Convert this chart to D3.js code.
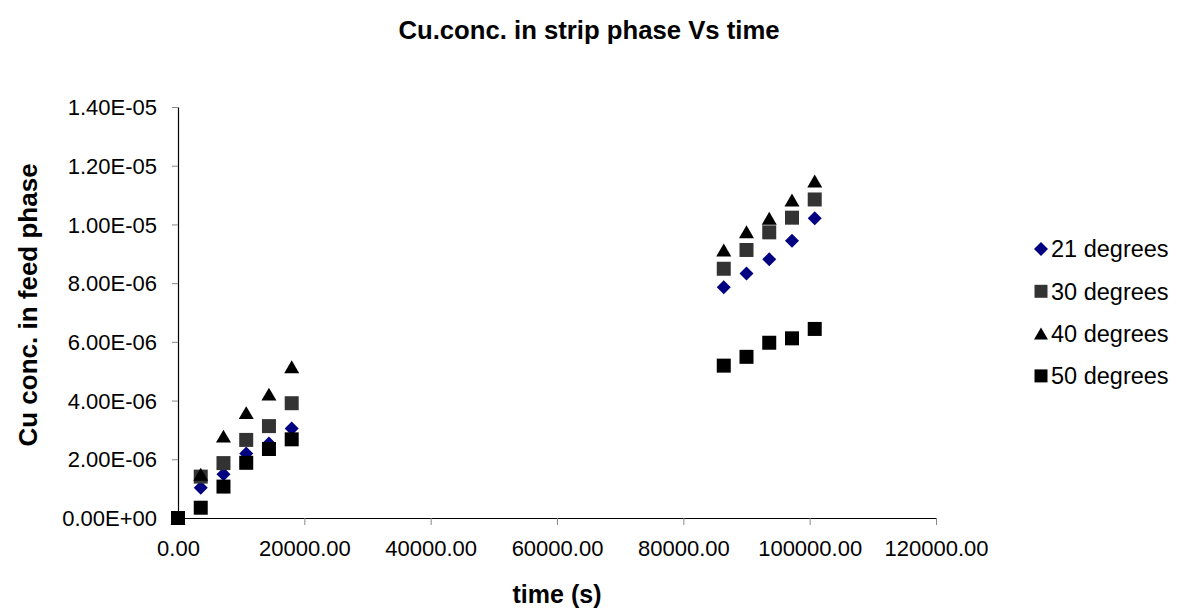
<!DOCTYPE html>
<html>
<head>
<meta charset="utf-8">
<script src="https://cdn.jsdelivr.net/npm/d3@7"></script>
<style>
  html, body { margin: 0; padding: 0; background: #ffffff; }
  svg { display: block; font-family: "Liberation Sans", Arial, sans-serif; }
</style>
</head>
<body>
<svg id="chart" width="1186" height="614"></svg>
<script>
// ---- data ----
const times = [0, 3600, 7200, 10800, 14400, 18000, 86400, 90000, 93600, 97200, 100800];
const seriesNames = ["21 degrees", "30 degrees", "40 degrees", "50 degrees"];
const deg21 = [0, 1.03e-6, 1.49e-6, 2.20e-6, 2.54e-6, 3.05e-6, 7.86e-6, 8.33e-6, 8.81e-6, 9.44e-6, 10.21e-6];
const deg30 = [0, 1.41e-6, 1.87e-6, 2.66e-6, 3.13e-6, 3.91e-6, 8.49e-6, 9.13e-6, 9.73e-6, 10.23e-6, 10.85e-6];
const deg40 = [0, 1.49e-6, 2.79e-6, 3.59e-6, 4.22e-6, 5.15e-6, 9.13e-6, 9.75e-6, 10.21e-6, 10.83e-6, 11.48e-6];
const deg50 = [0, 0.35e-6, 1.07e-6, 1.88e-6, 2.35e-6, 2.68e-6, 5.19e-6, 5.49e-6, 5.97e-6, 6.12e-6, 6.44e-6];
const xTickValues = [0, 20000, 40000, 60000, 80000, 100000, 120000];
const xTickLabels = ["0.00", "20000.00", "40000.00", "60000.00", "80000.00", "100000.00", "120000.00"];
const yTickValues = [0, 2e-6, 4e-6, 6e-6, 8e-6, 1e-5, 1.2e-5, 1.4e-5];
const yTickLabels = ["0.00E+00", "2.00E-06", "4.00E-06", "6.00E-06", "8.00E-06", "1.00E-05", "1.20E-05", "1.40E-05"];
const titleText = "Cu.conc. in strip phase Vs time";
const xTitle = "time (s)";
const yTitle = "Cu conc. in feed phase";

(function () {
// ---- layout ----
const svg = d3.select("#chart");
const pLeft = 178, pRight = 936, pTop = 107, pBottom = 518;
const x = d3.scaleLinear().domain([0, 120000]).range([pLeft, pRight]);
const y = d3.scaleLinear().domain([0, 1.4e-5]).range([pBottom, pTop]);

// marker shapes
function diamond(s) { const h = s / 2; return `M0,${-h}L${h},0L0,${h}L${-h},0Z`; }
function square(s) { const h = s / 2; return `M${-h},${-h}H${h}V${h}H${-h}Z`; }
function triangle(s) { const w = s / 2 + 0.5, h = s * 0.46; return `M0,${-h}L${w},${h}L${-w},${h}Z`; }

const series = [
  { name: seriesNames[0], values: deg21, shape: diamond, size: 14, color: "#000080" },
  { name: seriesNames[1], values: deg30, shape: square, size: 14, color: "#333333" },
  { name: seriesNames[2], values: deg40, shape: triangle, size: 14, color: "#000000" },
  { name: seriesNames[3], values: deg50, shape: square, size: 14, color: "#000000" }
];

// title
svg.append("text").attr("x", 589).attr("y", 39).attr("text-anchor", "middle")
  .attr("font-size", 25.7).attr("font-weight", "bold").attr("fill", "#000").text(titleText);

// axes
const xAxis = d3.axisBottom(x).tickValues(xTickValues)
  .tickFormat((d, i) => xTickLabels[i]).tickSize(7).tickSizeOuter(0);
const gx = svg.append("g").attr("transform", `translate(0,${pBottom})`).call(xAxis);
gx.select(".domain").attr("stroke", "#000").attr("stroke-width", 1.2);
gx.selectAll(".tick line").attr("stroke", "#888");
gx.selectAll(".tick text").attr("font-size", 22).attr("font-family", "Liberation Sans, Arial, sans-serif")
  .attr("fill", "#000").attr("dy", "0").attr("y", 38);

const yAxis = d3.axisLeft(y).tickValues(yTickValues)
  .tickFormat((d, i) => yTickLabels[i]).tickSize(6).tickSizeOuter(0);
const gy = svg.append("g").attr("transform", `translate(${pLeft},0)`).call(yAxis);
gy.select(".domain").attr("stroke", "#000").attr("stroke-width", 1.2);
gy.selectAll(".tick line").attr("stroke", "#888");
gy.selectAll(".tick text").attr("font-size", 22).attr("font-family", "Liberation Sans, Arial, sans-serif")
  .attr("fill", "#000").attr("x", -21).attr("dy", "0.35em");

// axis titles
svg.append("text").attr("x", 557).attr("y", 603).attr("text-anchor", "middle")
  .attr("font-size", 25).attr("font-weight", "bold").attr("fill", "#000").text(xTitle);
svg.append("text").attr("transform", "translate(37,305) rotate(-90)").attr("text-anchor", "middle")
  .attr("font-size", 26).attr("font-weight", "bold").attr("fill", "#000").text(yTitle);

// points
series.forEach(s => {
  svg.append("g").selectAll("path").data(times.map((t, i) => [t, s.values[i]]))
    .join("path")
    .attr("transform", d => `translate(${x(d[0])},${y(d[1])})`)
    .attr("d", s.shape(s.size))
    .attr("fill", s.color);
});

// legend
const legend = svg.append("g");
series.forEach((s, i) => {
  const cy = 249 + i * 42.3;
  legend.append("path").attr("transform", `translate(1041,${cy})`)
    .attr("d", s.shape(s === series[0] ? 14 : 13)).attr("fill", s.color);
  legend.append("text").attr("x", 1051).attr("y", cy).attr("dy", "0.36em")
    .attr("font-size", 23.5).attr("fill", "#000").text(s.name);
});
})();
</script>
</body>
</html>
